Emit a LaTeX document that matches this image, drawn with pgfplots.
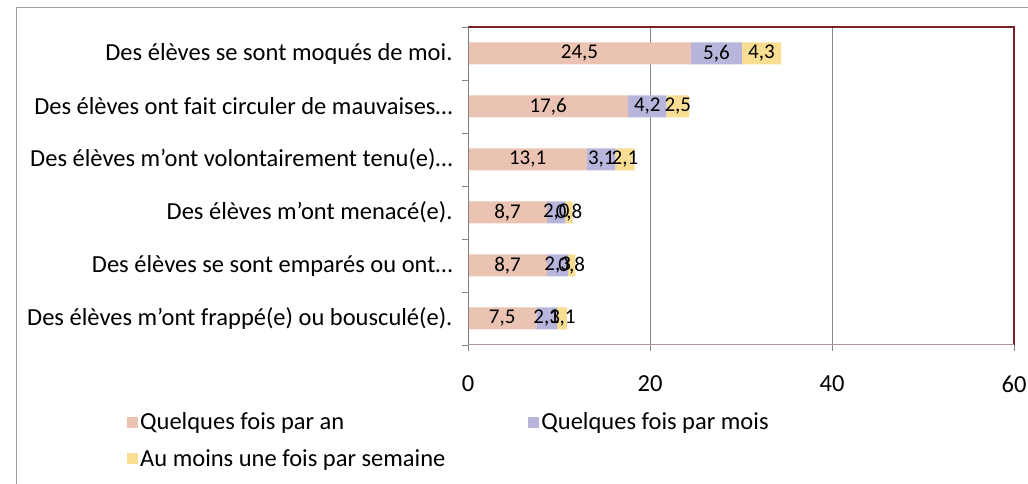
\documentclass[border=0pt]{standalone}
\usepackage{pgfplots}
\usepackage{pgfplotstable}
\pgfplotsset{compat=1.18}
\usepackage{fontspec}
\setmainfont{Carlito}
\definecolor{cAn}{RGB}{234,195,178}
\definecolor{cMois}{RGB}{183,181,219}
\definecolor{cSem}{RGB}{249,221,146}
\definecolor{frameRed}{RGB}{122,32,36}
\definecolor{gridGray}{RGB}{134,134,134}
\definecolor{botLine}{RGB}{176,150,150}
\pgfplotstableread{
idx an mois sem
0 24.5 5.6 4.3
1 17.6 4.2 2.5
2 13.1 3.1 2.1
3 8.7 2.0 0.8
4 8.7 2.3 0.8
5 7.5 2.3 1.1
}\data
\pgfplotstablecreatecol[create col/expr={\thisrow{an}/2}]{pAn}\data
\pgfplotstablecreatecol[create col/expr={\thisrow{an}+\thisrow{mois}/2}]{pMois}\data
\pgfplotstablecreatecol[create col/expr={\thisrow{an}+\thisrow{mois}+\thisrow{sem}/2}]{pSem}\data
\pgfplotsset{
  geom/.style={at={(468bp,139bp)}, anchor=south west, scale only axis,
    width=546bp, height=318bp, xmin=0, xmax=60, ymin=-0.5, ymax=5.5, y dir=reverse,
    enlargelimits=false},
  lab/.style={draw=none, mark=none, nodes near coords,
    nodes near coords style={anchor=center, black, font=\fontsize{21bp}{25bp}\selectfont,
      /pgf/number format/.cd, use comma, fixed, fixed zerofill, precision=1, assume math mode=true}},
}
\begin{document}
\begin{tikzpicture}[x=1bp,y=1bp]
\useasboundingbox (0,0) rectangle (1028,484);
\draw[gray!75, line width=1bp] (16,0) -- (16,476) -- (1028,476);
\begin{axis}[geom,
  xbar stacked, bar width=22bp,
  axis x line*=bottom, axis y line*=left,
  axis line style={draw=none, -},
  xmajorgrids, grid style={gridGray, line width=0.8bp},
  xtick={0,20,40},
  ytick={0,...,5},
  extra x ticks={60}, extra x tick style={grid=none},
  yticklabels={Des élèves se sont moqués de moi.,
    Des élèves ont fait circuler de mauvaises…,
    Des élèves m’ont volontairement tenu(e)…,
    Des élèves m’ont menacé(e).,
    Des élèves se sont emparés ou ont…,
    Des élèves m’ont frappé(e) ou bousculé(e).},
  minor ytick={-0.5,0.5,...,5.5},
  tick align=outside,
  major tick length=6bp, minor tick length=6bp,
  ytick style={draw=none},
  minor y tick style={draw=gridGray, line width=0.8bp},
  x tick style={draw=gridGray, line width=0.8bp},
  /pgf/number format/assume math mode=true,
  xticklabel style={font=\fontsize{24.5bp}{29bp}\selectfont, yshift=-21bp},
  yticklabel style={font=\fontsize{24.5bp}{29bp}\selectfont, xshift=-6bp},
  legend columns=2,
  legend cell align=left,
  legend style={draw=none, fill=none, at={(-0.63,-0.2)}, anchor=north west,
    font=\fontsize{24.5bp}{29bp}\selectfont,
    /tikz/every even column/.append style={column sep=81bp},
    row sep=14bp},
  legend image code/.code={\draw[#1, draw=none] (0bp,-5.5bp) rectangle (11bp,5.5bp);},
]
\addplot[fill=cAn, draw=none] table[x=an, y=idx]{\data};
\addplot[fill=cMois, draw=none] table[x=mois, y=idx]{\data};
\addplot[fill=cSem, draw=none] table[x=sem, y=idx]{\data};
\legend{Quelques fois par an, Quelques fois par mois, Au moins une fois par semaine}
\end{axis}
\begin{axis}[geom, hide axis]
\addplot[lab, point meta=\thisrow{an}] table[x=pAn, y=idx]{\data};
\addplot[lab, point meta=\thisrow{mois}] table[x=pMois, y=idx]{\data};
\addplot[lab, point meta=\thisrow{sem}] table[x=pSem, y=idx]{\data};
\end{axis}
\draw[frameRed, line width=1.6bp] (468,457) -- (1014,457) -- (1014,139);
\draw[botLine, line width=1bp] (468,139) -- (1014,139);
\draw[gray, line width=1bp] (468,139) -- (468,457);
\end{tikzpicture}
\end{document}
